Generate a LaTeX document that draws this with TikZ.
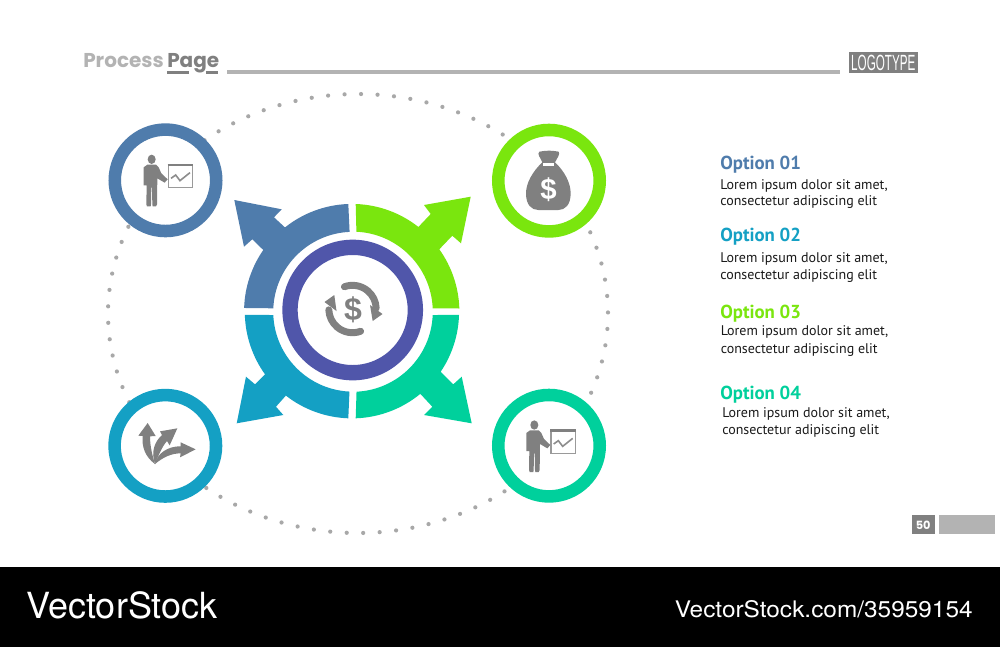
\documentclass[tikz,border=0pt]{standalone}
\usepackage{fontspec}
\setmainfont{PT Sans}
\newfontfamily\headfont{Poppins}
\newfontfamily\logofont{Liberation Sans}
\newfontfamily\stockfont{TeX Gyre Heros}
\definecolor{cTL}{HTML}{4F7CAC}
\definecolor{cTR}{HTML}{7AE60E}
\definecolor{cBL}{HTML}{14A0C4}
\definecolor{cBR}{HTML}{00D09C}
\definecolor{cMid}{HTML}{5056AA}
\definecolor{iconGrey}{HTML}{808080}
\definecolor{lightGrey}{HTML}{B3B3B3}
\definecolor{dotGrey}{HTML}{A8A8A8}
\definecolor{bodyInk}{HTML}{1A1A1A}
\tikzset{
  ringnode/.style={circle,draw=#1,fill=white,line width=9.4pt,minimum size=76.1pt,inner sep=0pt,outer sep=0pt},
  opttitle/.style={anchor=base west,inner sep=0pt,font=\fontsize{14.1}{15}\selectfont\bfseries,text=#1},
  optbody/.style={anchor=base west,inner sep=0pt,font=\fontsize{10.5}{12}\selectfont,text=bodyInk},
}
\newcommand{\personicon}[2]{%
  \begin{scope}[x=.25pt,y=-.25pt,shift={(#1,#2)}]
    \fill[iconGrey] (65,43) ellipse[x radius=12,y radius=14];
    \fill[iconGrey] (52,59) -- (41,67) -- (41,121) -- (50,121) -- (49,178) -- (51,184) -- (62,184) -- (63,178) -- (64,128) -- (66,128) -- (67,178) -- (68,184) -- (78,184) -- (81,178) -- (82,100) -- (104,113) -- (113,103) -- (94,85) -- (86,67) -- (78,59) -- cycle;
    \draw[iconGrey!80,line width=1pt,fill=white] (115,60) rectangle (188,128);
    \draw[iconGrey,line width=2pt] (113,60) -- (190,60);
    \draw[iconGrey!90,line width=1.2pt] (123,100) -- (137,90) -- (150,107) -- (180,83);
  \end{scope}}
\begin{document}
\begin{tikzpicture}[x=.75pt,y=-.75pt]
\useasboundingbox (0,0) rectangle (1000,647);
\fill[white] (0,0) rectangle (1000,647);
% footer
\fill[black] (0,567) rectangle (1000,647);
\node[anchor=base west,inner sep=0pt,text=white,font=\stockfont\fontsize{27}{30}\selectfont] (stockA) at (26,618.3) {VectorStock};
\node[anchor=base west,inner sep=0pt,text=white,xscale=1.07,font=\stockfont\fontsize{17.1}{20}\selectfont] (stockB) at (674.5,617.3) {VectorStock.com/35959154};
% header
\node[anchor=base west,inner sep=0pt,text=lightGrey,font=\headfont\fontsize{15}{18}\selectfont\bfseries] (procword) at (83,67.7) {Process};
\node[anchor=base west,inner sep=0pt,text=iconGrey,font=\headfont\fontsize{15}{18}\selectfont\bfseries] (pageword) at (167,67.7) {Page};
\draw[iconGrey,line width=1.9pt] (167,72.3) -- (189.3,72.3) (206,72.3) -- (217.7,72.3);
\draw[lightGrey,line width=2.7pt] (227,72) -- (840,72);
\node[fill=iconGrey,minimum width=51.5pt,minimum height=15.8pt,inner sep=0pt,outer sep=0pt] (logobox) at (883.3,62.8) {};
\node[text=white,inner sep=0pt,xscale=.53,font=\logofont\fontsize{16.5}{17}\selectfont] (logotext) at (883.3,63) {LOGOTYPE};
% dotted ellipse, evenly spaced along its length
\foreach \k in {-44,...,44}{
  \pgfmathsetmacro{\uu}{0.75+\k*4.045}
  \pgfmathsetmacro{\tt}{\uu-1.86*sin(2*\uu)}
  \fill[dotGrey] ({358+250*sin(\tt)},{313.5-219.5*cos(\tt)}) circle[radius=2.1];
}
% corner rings
\node[ringnode=cTL] (ringTL) at (165.5,180.3) {};
\node[ringnode=cTR] (ringTR) at (549,180.7) {};
\node[ringnode=cBL] (ringBL) at (165.3,445.8) {};
\node[ringnode=cBR] (ringBR) at (549,445.7) {};
% four arrow quadrants
\fill[cTL] (348.3,204) arc[start angle=268,end angle=231.4,radius=107.5] -- (274,217.3) -- (281.7,209.3) -- (234.3,200) -- (244,246.7) -- (252.3,239.3) -- (263.3,250) arc[start angle=214.8,end angle=181.8,radius=107.5] -- (273.3,308.3) arc[start angle=182.5,end angle=267.4,radius=80] -- cycle;
\fill[cTR] (355.7,204) arc[start angle=272,end angle=308.2,radius=107.5] -- (430.7,214) -- (424,205) -- (470.7,196.7) -- (461,243.3) -- (452.3,235.7) -- (439.3,249.3) arc[start angle=324.4,end angle=358.2,radius=107.5] -- (432.7,308.3) arc[start angle=357.6,end angle=272.6,radius=80] -- cycle;
\fill[cBL] (348.3,418.3) arc[start angle=92,end angle=128,radius=107.5] -- (276,406.7) -- (283.3,415) -- (236.7,423.3) -- (246,376.7) -- (255,384.3) -- (265,374.3) arc[start angle=144.3,end angle=178.2,radius=107.5] -- (273.3,315) arc[start angle=177.6,end angle=92.7,radius=80] -- cycle;
\fill[cBR] (355.7,418.3) arc[start angle=88,end angle=50.5,radius=107.5] -- (432.3,406.7) -- (424,415) -- (471.7,423.3) -- (461.7,376.7) -- (453.3,384.3) -- (440.7,371.7) arc[start angle=34,end angle=1.8,radius=107.5] -- (432.7,315) arc[start angle=2.3,end angle=87.3,radius=80] -- cycle;
% centre ring
\node[circle,draw=cMid,fill=white,line width=11.5pt,minimum size=94pt,inner sep=0pt,outer sep=0pt] (midring) at (352.7,310) {};
% centre icon
\draw[iconGrey,line width=5.2pt,line cap=round] (352.5,309)+(250:23.7) arc[start angle=250,end angle=358,radius=23.7];
\draw[iconGrey,line width=5.2pt,line cap=round] (352.5,309)+(70:23.7) arc[start angle=70,end angle=178,radius=23.7];
\fill[iconGrey] (372.7,321) -- (370,305) -- (382.5,314) -- cycle;
\fill[iconGrey] (334.3,295) -- (336.5,311) -- (324.5,302) -- cycle;
\node[inner sep=0pt,text=iconGrey,font=\logofont\bfseries\fontsize{24}{26}\selectfont] (dollarmid) at (353,310) {\$};
% person icons
\personicon{390}{435}
\personicon{1538}{1232}
% money bag
\begin{scope}[x=.25pt,y=-.25pt,shift={(1440,345)}]
  \fill[iconGrey] (178,110) .. controls (200,106) and (215,106) .. (236,110) .. controls (241,118) and (232,128) .. (225,142) .. controls (255,170) and (272,205) .. (272,235) .. controls (272,270) and (255,285) .. (235,285) -- (175,285) .. controls (155,285) and (138,270) .. (138,235) .. controls (138,205) and (157,170) .. (187,142) .. controls (182,128) and (170,118) .. (178,110) -- cycle;
  \fill[white] (190,144) rectangle (222,153);
\end{scope}
\node[inner sep=0pt,text=white,font=\logofont\bfseries\fontsize{22}{24}\selectfont] (dollarbag) at (548.5,189.5) {\$};
% branching arrows icon
\begin{scope}[x=.25pt,y=-.25pt,shift={(390,1245)}]
  \fill[iconGrey] (75,147) .. controls (45,125) and (35,95) .. (38,63) -- (25,62) -- (53,24) -- (77,63) -- (60,64) .. controls (60,95) and (68,125) .. (75,147) -- cycle;
  \fill[iconGrey] (75,147) .. controls (62,110) and (74,80) .. (96,60) -- (90,49) -- (142,40) -- (119,91) -- (111,78) .. controls (96,95) and (86,120) .. (75,147) -- cycle;
  \fill[iconGrey] (75,147) .. controls (82,112) and (118,93) .. (152,94) -- (152,82) -- (197,103) -- (150,127) -- (152,115) .. controls (125,115) and (100,126) .. (75,147) -- cycle;
\end{scope}
% legend
\node[opttitle=cTL] (opt1) at (720,169.3) {Option 01};
\node[optbody] (opt1a) at (720,189) {Lorem ipsum dolor sit amet,};
\node[optbody] (opt1b) at (720,205.7) {consectetur adipiscing elit};
\node[opttitle=cBL] (opt2) at (720,241) {Option 02};
\node[optbody] (opt2a) at (720,262) {Lorem ipsum dolor sit amet,};
\node[optbody] (opt2b) at (720,279) {consectetur adipiscing elit};
\node[opttitle=cTR] (opt3) at (720,318.3) {Option 03};
\node[optbody] (opt3a) at (720.5,335.7) {Lorem ipsum dolor sit amet,};
\node[optbody] (opt3b) at (720.5,353) {consectetur adipiscing elit};
\node[opttitle=cBR] (opt4) at (720,399) {Option 04};
\node[optbody] (opt4a) at (722,417.3) {Lorem ipsum dolor sit amet,};
\node[optbody] (opt4b) at (722,434.3) {consectetur adipiscing elit};
% page number
\node[fill=iconGrey,minimum width=17.25pt,minimum height=14.25pt,inner sep=0pt,outer sep=0pt,text=white,font=\headfont\bfseries\fontsize{8.5}{9}\selectfont] (pagenum) at (923.2,524.8) {50};
\node[fill=lightGrey,minimum width=42pt,minimum height=14.25pt,inner sep=0pt,outer sep=0pt] (pagebar) at (967,524.8) {};
\end{tikzpicture}
\end{document}
